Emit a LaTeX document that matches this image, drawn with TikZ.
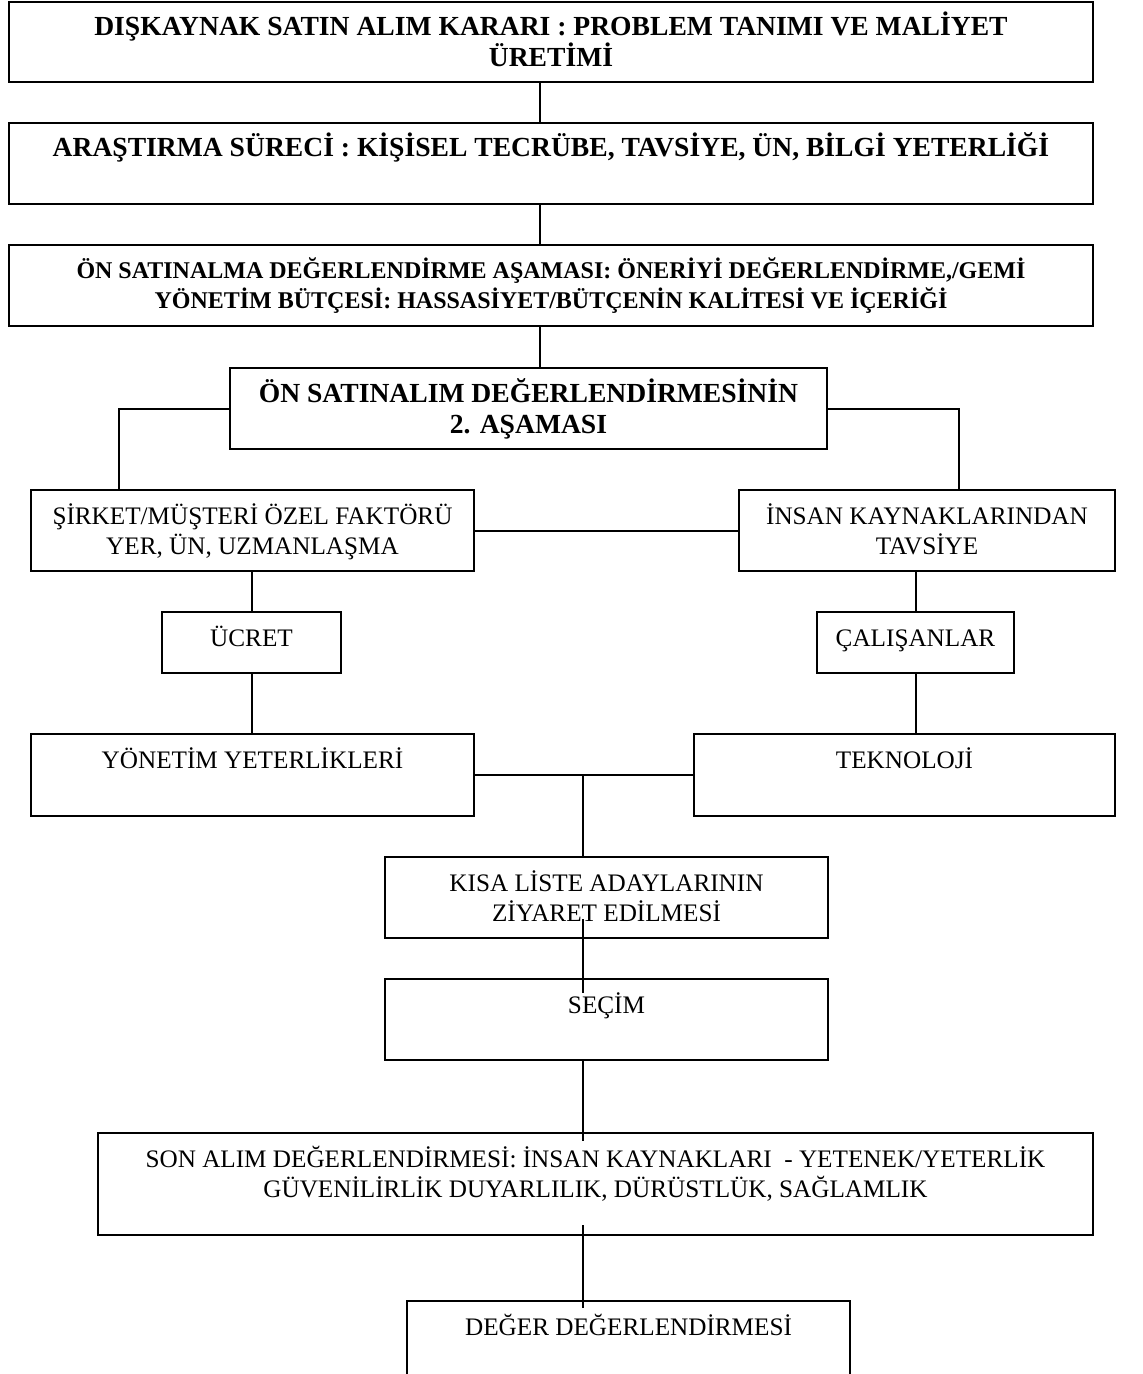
\documentclass[tikz,border=0pt]{standalone}
\usepackage{fontspec}
\setmainfont{Liberation Serif}
\usetikzlibrary{calc}

\newlength\birim
\setlength\birim{0.5pt}
% kutu icerigi: genislik, yukseklik, metin (metin ustte)
\newcommand{\icerik}[3]{\parbox[c][#2\birim][t]{#1\birim}{\centering\rule{0pt}{17pt}#3\par}}

\tikzset{
  kutu/.style={draw, line width=1pt, inner sep=0pt, anchor=north west,
    font=\fontsize{12.6}{15}\selectfont},
  kalin/.style={kutu, font=\fontsize{13.8}{15.5}\selectfont\bfseries},
  ince/.style={kutu, font=\fontsize{12}{15}\selectfont\bfseries},
  bag/.style={line width=1pt}
}

\begin{document}
\begin{tikzpicture}[x=0.5pt, y=-0.5pt]
	\useasboundingbox (0,0) rectangle (1142,1374);
	
	% ust kutular
	\node[kalin] (b1) at (8,1) {\icerik{1084}{80}{DIŞKAYNAK SATIN ALIM KARARI : PROBLEM TANIMI VE MALİYET\\ÜRETİMİ}};
	\node[kalin] (b2) at (8,122) {\icerik{1084}{81}{ARAŞTIRMA SÜRECİ : KİŞİSEL TECRÜBE, TAVSİYE, ÜN, BİLGİ YETERLİĞİ}};
	\node[ince] (b3) at (8,244) {\icerik{1084}{81}{ÖN SATINALMA DEĞERLENDİRME AŞAMASI: ÖNERİYİ DEĞERLENDİRME,/GEMİ\\YÖNETİM BÜTÇESİ: HASSASİYET/BÜTÇENİN KALİTESİ VE İÇERİĞİ}};
	\node[kalin] (b4) at (229,367) {\icerik{597}{81}{ÖN SATINALIM DEĞERLENDİRMESİNİN\\2. AŞAMASI}};
	
	% iki kol
	\node[kutu] (b5) at (30,489) {\icerik{443}{81}{ŞİRKET/MÜŞTERİ ÖZEL FAKTÖRÜ\\YER, ÜN, UZMANLAŞMA}};
	\node[kutu] (b6) at (738,489) {\icerik{376}{81}{İNSAN KAYNAKLARINDAN\\TAVSİYE}};
	\node[kutu] (b7) at (161,611) {\icerik{179}{61}{ÜCRET}};
	\node[kutu] (b8) at (816,611) {\icerik{197}{61}{ÇALIŞANLAR}};
	\node[kutu] (b9) at (30,733) {\icerik{443}{82}{YÖNETİM YETERLİKLERİ}};
	\node[kutu] (b10) at (693,733) {\icerik{421}{82}{TEKNOLOJİ}};
	
	% alt kutular
	\node[kutu] (b11) at (384,856) {\icerik{443}{81}{KISA LİSTE ADAYLARININ\\ZİYARET EDİLMESİ}};
	\node[kutu] (b12) at (384,978) {\icerik{443}{81}{SEÇİM}};
	\node[kutu] (b13) at (97,1132) {\icerik{995}{102}{SON ALIM DEĞERLENDİRMESİ: İNSAN KAYNAKLARI\ \ - YETENEK/YETERLİK\\GÜVENİLİRLİK DUYARLILIK, DÜRÜSTLÜK, SAĞLAMLIK}};
	\node[kutu] (b14) at (406,1300) {\icerik{443}{82}{DEĞER DEĞERLENDİRMESİ}};
	
	% baglantilar
	\coordinate (ust) at (540,0);
	\coordinate (solkol) at (119,0);
	\coordinate (sagkol) at (959,0);
	\coordinate (orta) at (583,0);
	\draw[bag] (b1.south -| ust) -- (b2.north -| ust);
	\draw[bag] (b2.south -| ust) -- (b3.north -| ust);
	\draw[bag] (b3.south -| ust) -- (b4.north -| ust);
	\draw[bag] (b4.west) -| (b5.north -| solkol);
	\draw[bag] (b4.east) -| (b6.north -| sagkol);
	\draw[bag] (b5.east) -- (b6.west);
	\draw[bag] (b5.south -| b7.north) -- (b7.north);
	\draw[bag] (b7.south) -- (b9.north -| b7.south);
	\draw[bag] (b6.south -| b8.north) -- (b8.north);
	\draw[bag] (b8.south) -- (b10.north -| b8.south);
	\draw[bag] (b9.east) -- (b10.west);
	\draw[bag] (b9.east -| orta) -- (b11.north -| orta);
	\draw[bag] ($(b11.south -| orta)+(0,-20)$) -- ($(b12.north -| orta)+(0,15)$);
	\draw[bag] (b12.south -| orta) -- ($(b13.north -| orta)+(0,9)$);
	\draw[bag] ($(b13.south -| orta)+(0,-11)$) -- ($(b14.north -| orta)+(0,8)$);
\end{tikzpicture}
\end{document}
